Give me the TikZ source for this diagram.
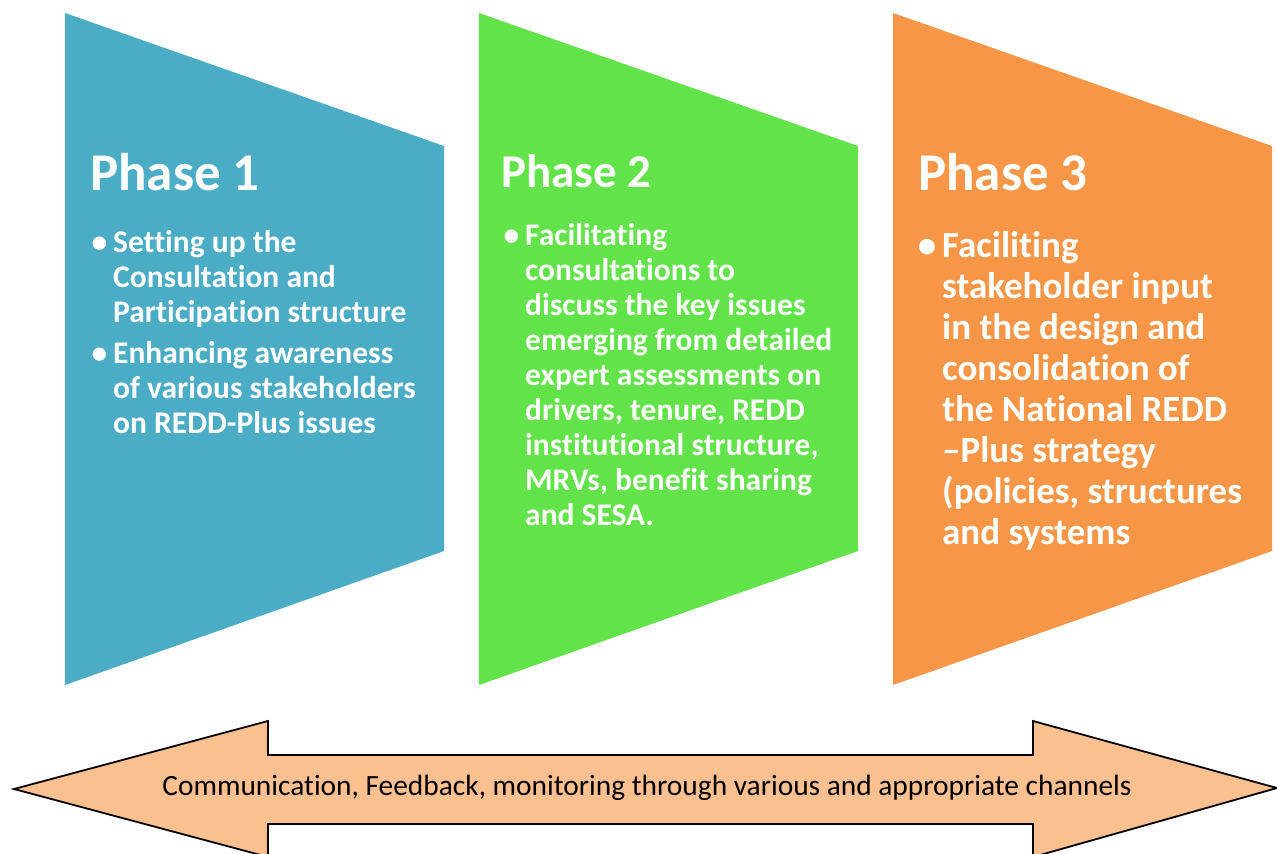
\documentclass[tikz,border=0pt]{standalone}
\usepackage{fontspec}
\setmainfont{Carlito}[Ligatures=NoCommon]
\usetikzlibrary{positioning}
\definecolor{phaseblue}{HTML}{4BACC6}
\definecolor{phasegreen}{HTML}{62E34A}
\definecolor{phaseorange}{HTML}{F79646}
\definecolor{arrowfill}{HTML}{FAC090}
\newcommand{\phaseitem}[1]{\llap{\textbullet\hspace{6pt}}#1}

\begin{document}
\begin{tikzpicture}[x=1pt,y=-1pt,
  phasehead/.style={anchor=base west,inner sep=0pt,text=white,font=\fontsize{53}{60}\selectfont\bfseries},
  phasetext/.style={anchor=base west,inner sep=0pt,text=white}]
\useasboundingbox (0,0) rectangle (1277,854);
%drei Phasen, je 414 nach rechts verschoben
\foreach \i/\col in {0/phaseblue,1/phasegreen,2/phaseorange}{
  \fill[\col,xshift=\i*414pt] (65,13) -- (444,146) -- (444,551) -- (65,685) -- cycle;
}
\node[phasehead] (head1) at (90,190) {Phase 1};
\node[phasehead,font=\fontsize{47}{54}\selectfont\bfseries] (head2) at (501,187) {Phase 2};
\node[phasehead] (head3) at (918,190) {Phase 3};
\node[phasetext,font=\fontsize{31.5}{35}\selectfont\bfseries] (list1) at (113,252)
  {\begin{tabular}[t]{@{}l@{}}
   \phaseitem{Setting up the}\\Consultation and\\Participation structure\\[6pt]
   \phaseitem{Enhancing awareness}\\of various stakeholders\\on REDD-Plus issues
   \end{tabular}};
\node[phasetext,font=\fontsize{31.5}{35}\selectfont\bfseries] (list2) at (525,245)
  {\begin{tabular}[t]{@{}l@{}}
   \phaseitem{Facilitating}\\consultations to\\discuss the key issues\\emerging from detailed\\expert assessments on\\drivers, tenure, REDD\\institutional structure,\\MRVs, benefit sharing\\and SESA.
   \end{tabular}};
\node[phasetext,font=\fontsize{37}{41}\selectfont\bfseries] (list3) at (942,257)
  {\begin{tabular}[t]{@{}l@{}}
   \phaseitem{Faciliting}\\stakeholder input\\in the design and\\consolidation of\\the National REDD\\–Plus strategy\\(policies, structures\\and systems
   \end{tabular}};
%Doppelpfeil unten
\draw[black,line width=1.8pt,fill=arrowfill] (14,789) -- (268,721) -- (268,755) -- (1033,755) -- (1033,721) -- (1277,788)
  -- (1033,857) -- (1033,824) -- (268,824) -- (268,857) -- cycle;
\node[anchor=base,inner sep=0pt,font=\fontsize{29.4}{34}\selectfont] (channels) at (647,795)
  {Communication, Feedback, monitoring through various and appropriate channels};
\end{tikzpicture}
\end{document}
